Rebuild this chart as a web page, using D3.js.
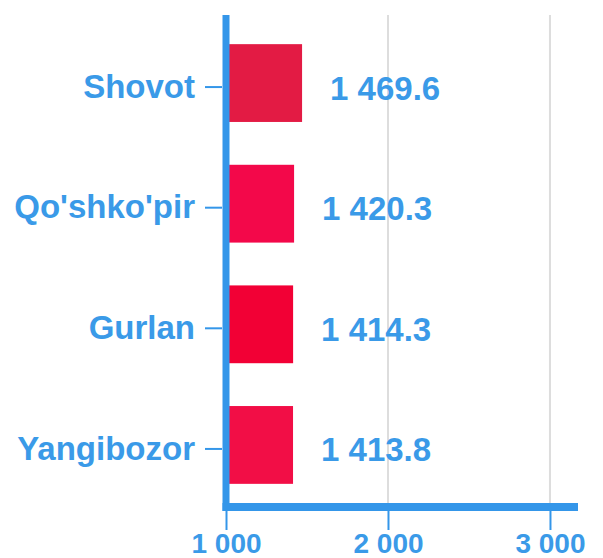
<!DOCTYPE html>
<html>
<head>
<meta charset="utf-8">
<script src="https://cdn.jsdelivr.net/npm/d3@7"></script>
<style>
  body { margin: 0; background: #fff; }
  svg { display: block; font-family: "Liberation Sans", Arial, sans-serif; font-weight: bold; }
  .axis_y text { font-size: 33px; fill: #3a9ae8; }
  .axis_x text { font-size: 28px; fill: #3a9ae8; }
  .axis_y line, .axis_x line { stroke: #3496e9; stroke-width: 2; }
  .value_label { font-size: 33px; fill: #3a9ae8; }
  .grid line { stroke: #dddddd; stroke-width: 2; }
</style>
</head>
<body>
<div id="chart"></div>
<script>
// data
var districts = ["Shovot", "Qo'shko'pir", "Gurlan", "Yangibozor"];
var values = [1469.6, 1420.3, 1414.3, 1413.8];
var xTicks = [1000, 2000, 3000];
var barColors = ["#e31b44", "#f3084a", "#f20035", "#f20e46"];

var locale = d3.formatLocale({
  "decimal": ".",
  "thousands": " ",
  "grouping": [3],
  "currency": ["", ""]
});
var formatTick = locale.format(",");
var formatValue = locale.format(",.1f");

var margin = {top: 15, right: 25, bottom: 55, left: 226};
var width = 603 - margin.left - margin.right;
var height = 558 - margin.top - margin.bottom;

var svg = d3.select("#chart").append("svg")
    .attr("width", 603)
    .attr("height", 558)
    .append("g")
    .attr("transform", "translate(" + margin.left + "," + margin.top + ")");

var xScale = d3.scaleLinear()
    .domain([1000, 3173])
    .range([0, width]);

var yScale = d3.scaleBand()
    .domain(districts)
    .range([-1, 499])
    .paddingInner(0.355)
    .paddingOuter(0.25);

// grid
svg.append("g")
    .attr("class", "grid")
    .selectAll("line")
    .data(xTicks.slice(1))
    .enter().append("line")
    .attr("x1", d => xScale(d))
    .attr("x2", d => xScale(d))
    .attr("y1", 0)
    .attr("y2", height);

// bars
var rows = districts.map((d, i) => ({name: d, value: values[i]}));

svg.selectAll(".bar")
    .data(rows)
    .enter().append("rect")
    .attr("class", "bar")
    .attr("x", xScale(1000))
    .attr("y", d => yScale(d.name))
    .attr("width", d => xScale(d.value) - xScale(1000))
    .attr("height", yScale.bandwidth())
    .attr("fill", (d, i) => barColors[i]);

svg.selectAll(".value_label")
    .data(rows)
    .enter().append("text")
    .attr("class", "value_label")
    .attr("x", d => xScale(d.value) + 28)
    .attr("y", d => yScale(d.name) + yScale.bandwidth() / 2 + 5)
    .attr("dy", "0.35em")
    .text(d => formatValue(d.value));

// axes
var yAxis = d3.axisLeft(yScale).tickSize(17).tickPadding(10);
var yAxisG = svg.append("g")
    .attr("class", "axis_y")
    .attr("transform", "translate(-4,4)")
    .call(yAxis);
yAxisG.select(".domain").remove();

var xAxis = d3.axisBottom(xScale).tickValues(xTicks).tickSize(19).tickPadding(3).tickFormat(formatTick);
var xAxisG = svg.append("g")
    .attr("class", "axis_x")
    .attr("transform", "translate(0," + (height + 8) + ")")
    .call(xAxis);
xAxisG.select(".domain").remove();

// thick axis lines
svg.append("line")
    .attr("x1", 0).attr("x2", 0)
    .attr("y1", 0).attr("y2", height + 8)
    .attr("stroke", "#3496e9")
    .attr("stroke-width", 7);

svg.append("line")
    .attr("x1", -3.5).attr("x2", width)
    .attr("y1", height + 4).attr("y2", height + 4)
    .attr("stroke", "#3496e9")
    .attr("stroke-width", 8);
</script>
</body>
</html>
